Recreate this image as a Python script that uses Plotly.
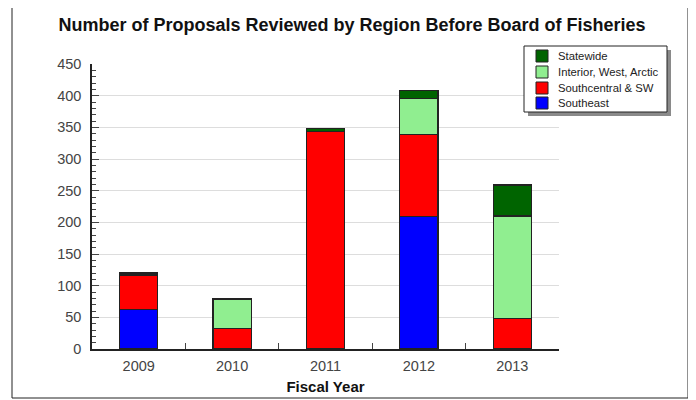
import plotly.graph_objects as go

years = ["2009", "2010", "2011", "2012", "2013"]
southeast = [62, 0, 0, 209, 0]
southcentral_sw = [55, 32, 344, 130, 48]
interior_west_arctic = [0, 46, 0, 56, 162]
statewide = [3, 1, 4, 13, 49]

series = [
    ("Southeast", southeast, "#0000FF"),
    ("Southcentral & SW", southcentral_sw, "#FF0000"),
    ("Interior, West, Arctic", interior_west_arctic, "#90EE90"),
    ("Statewide", statewide, "#006400"),
]

OFF = 8  # page body margin
L, R, T, B = 92 - OFF, 559 - OFF, 64 - OFF, 349 - OFF
W, H = R - L, B - T
def px(x):
    return (x - OFF - L) / W
def py(y):
    return (B - (y - OFF)) / H

fig = go.Figure()
for name, vals, col in series:
    fig.add_trace(go.Bar(
        x=years, y=vals, name=name, marker_color=col,
        marker_line_color="#222222", marker_line_width=1.2, width=0.41,
        showlegend=False,
    ))

shapes = [
    dict(type="rect", xref="paper", yref="paper", x0=px(688), x1=px(696), y0=py(404), y1=py(10),
         fillcolor="#555555", line_width=0, layer="below"),
    dict(type="rect", xref="paper", yref="paper", x0=px(12), x1=px(688), y0=py(398), y1=py(5),
         fillcolor="white", line=dict(color="#222222", width=1), layer="below"),
    # legend shadow and box
    dict(type="rect", xref="paper", yref="paper", x0=px(528), x1=px(671), y0=py(116), y1=py(50),
         fillcolor="#8a8a8a", line_width=0, layer="above"),
    dict(type="rect", xref="paper", yref="paper", x0=px(524), x1=px(667), y0=py(112), y1=py(46),
         fillcolor="white", line=dict(color="#222222", width=1), layer="above"),
]
annotations = []
legend_items = list(reversed(series))
row_y = [56, 72, 88, 103]
for (name, _, col), yc in zip(legend_items, row_y):
    shapes.append(dict(type="rect", xref="paper", yref="paper",
                       x0=px(536), x1=px(548), y0=py(yc + 6), y1=py(yc - 6),
                       fillcolor=col, line=dict(color="#222222", width=1), layer="above"))
    annotations.append(dict(text=name, xref="paper", yref="paper", x=px(556), y=py(yc),
                            xanchor="left", yanchor="middle", showarrow=False,
                            font=dict(size=11.3, color="#222222")))

fig.update_layout(
    barmode="stack",
    width=696, height=400,
    margin=dict(l=L, r=696 - R, t=T, b=400 - B),
    paper_bgcolor="white", plot_bgcolor="white",
    font=dict(family="Liberation Sans, Arial, sans-serif", size=14, color="#333333"),
    title=dict(text="<b>Number of Proposals Reviewed by Region Before Board of Fisheries</b>",
               x=(352 - OFF) / 696, xref="container", xanchor="center",
               y=1 - (25 - OFF) / 400, yanchor="middle",
               font=dict(size=18, color="#111111")),
    showlegend=False,
    xaxis=dict(showline=True, linecolor="#222222", linewidth=1.5, ticks="inside",
               tickson="boundaries", ticklen=6, tickcolor="#444444",
               tickfont=dict(size=14.5, color="#444444"), ticklabelstandoff=3,
               title=dict(text="<b>Fiscal Year</b>", font=dict(size=15, color="#111111"), standoff=8)),
    yaxis=dict(range=[0, 450], dtick=50, showline=True, linecolor="#222222", linewidth=1.5,
               ticks="inside", ticklen=7, tickcolor="#444444",
               tickfont=dict(size=14.5, color="#444444"), ticklabelstandoff=6,
               showgrid=True, gridcolor="#DDDDDD", gridwidth=1,
               minor=dict(dtick=10, ticks="inside", ticklen=4, tickcolor="#444444", showgrid=False),
               zeroline=False),
    shapes=shapes,
    annotations=annotations,
    bargap=0.59,
)

fig.write_html("out.html")
